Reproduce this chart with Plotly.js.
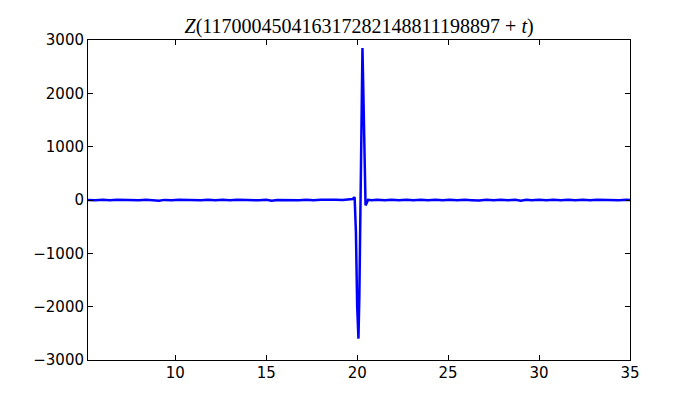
<!DOCTYPE html>
<html>
<head>
<meta charset="utf-8">
<script src="https://cdn.plot.ly/plotly-3.0.1.min.js"></script>
<style>html,body{margin:0;padding:0;background:#fff;}#chart{width:700px;height:400px;}</style>
</head>
<body>
<div id="chart"></div>
<script>
var tValues = [5.2,5.6,6.0,6.4,6.8,7.2,7.6,8.0,8.4,8.8,9.1,9.4,9.8,10.2,10.6,11.0,11.4,11.8,12.2,12.6,13.0,13.4,13.8,14.2,14.6,15.0,15.3,15.6,16.0,16.4,16.8,17.2,17.6,18.0,18.4,18.8,19.2,19.45,19.6,19.75,19.86,19.93,20.0,20.07,20.12,20.18,20.23,20.29,20.34,20.4,20.46,20.52,20.6,20.8,21.1,21.5,21.9,22.3,22.7,23.1,23.5,23.9,24.3,24.7,25.1,25.5,25.9,26.3,26.7,27.1,27.5,27.9,28.3,28.7,29.0,29.3,29.6,30.0,30.4,30.8,31.2,31.6,32.0,32.4,32.8,33.2,33.6,34.0,34.4,34.8,35.0];
var zValues = [2,-4,5,-6,3,-2,6,-5,4,-3,-14,2,-4,5,-3,3,-5,7,-3,4,-6,3,-2,5,-4,6,-12,2,-3,4,-3,4,-5,3,-4,3,-2,6,8,20,50,-600,-2000,-2600,-1800,0,2000,2850,2000,400,-100,-60,3,-5,4,-3,6,-4,3,-5,5,-3,4,-7,3,-4,5,-3,-10,4,-3,5,-4,3,-12,6,-4,3,-5,4,-3,5,-3,4,-4,3,-2,5,-4,3,2];

var data = [{
  x: tValues, y: zValues, type: 'scatter', mode: 'lines',
  line: {color: '#0000ff', width: 2.5}, hoverinfo: 'skip'
}];

var axisCommon = {
  showline: true, linecolor: '#000', linewidth: 1, mirror: 'ticks',
  ticks: 'inside', ticklen: 5, tickcolor: '#000', tickwidth: 1,
  showgrid: false, zeroline: false,
  tickfont: {family: 'DejaVu Sans', size: 15, color: '#000'}
};

var layout = {
  width: 700, height: 400,
  margin: {l: 88, r: 70, t: 40, b: 40},
  paper_bgcolor: '#fff', plot_bgcolor: '#fff',
  showlegend: false,
  title: {
    text: '<i>Z</i>(117000450416317282148811198897 + <i>t</i>)',
    font: {family: 'Liberation Serif', size: 20, color: '#000'},
    x: 0.513, xanchor: 'center', y: 0.935, yanchor: 'middle'
  },
  xaxis: Object.assign({}, axisCommon, {
    range: [5.2, 35], tickvals: [10, 15, 20, 25, 30, 35], ticktext: ['10','15','20','25','30','35'],
    ticklabelstandoff: -1
  }),
  yaxis: Object.assign({}, axisCommon, {
    range: [-3000, 3000], tickvals: [-3000,-2000,-1000,0,1000,2000,3000],
    ticklabelstandoff: 0
  })
};

Plotly.newPlot('chart', data, layout, {staticPlot: true, displayModeBar: false});
</script>
</body>
</html>
